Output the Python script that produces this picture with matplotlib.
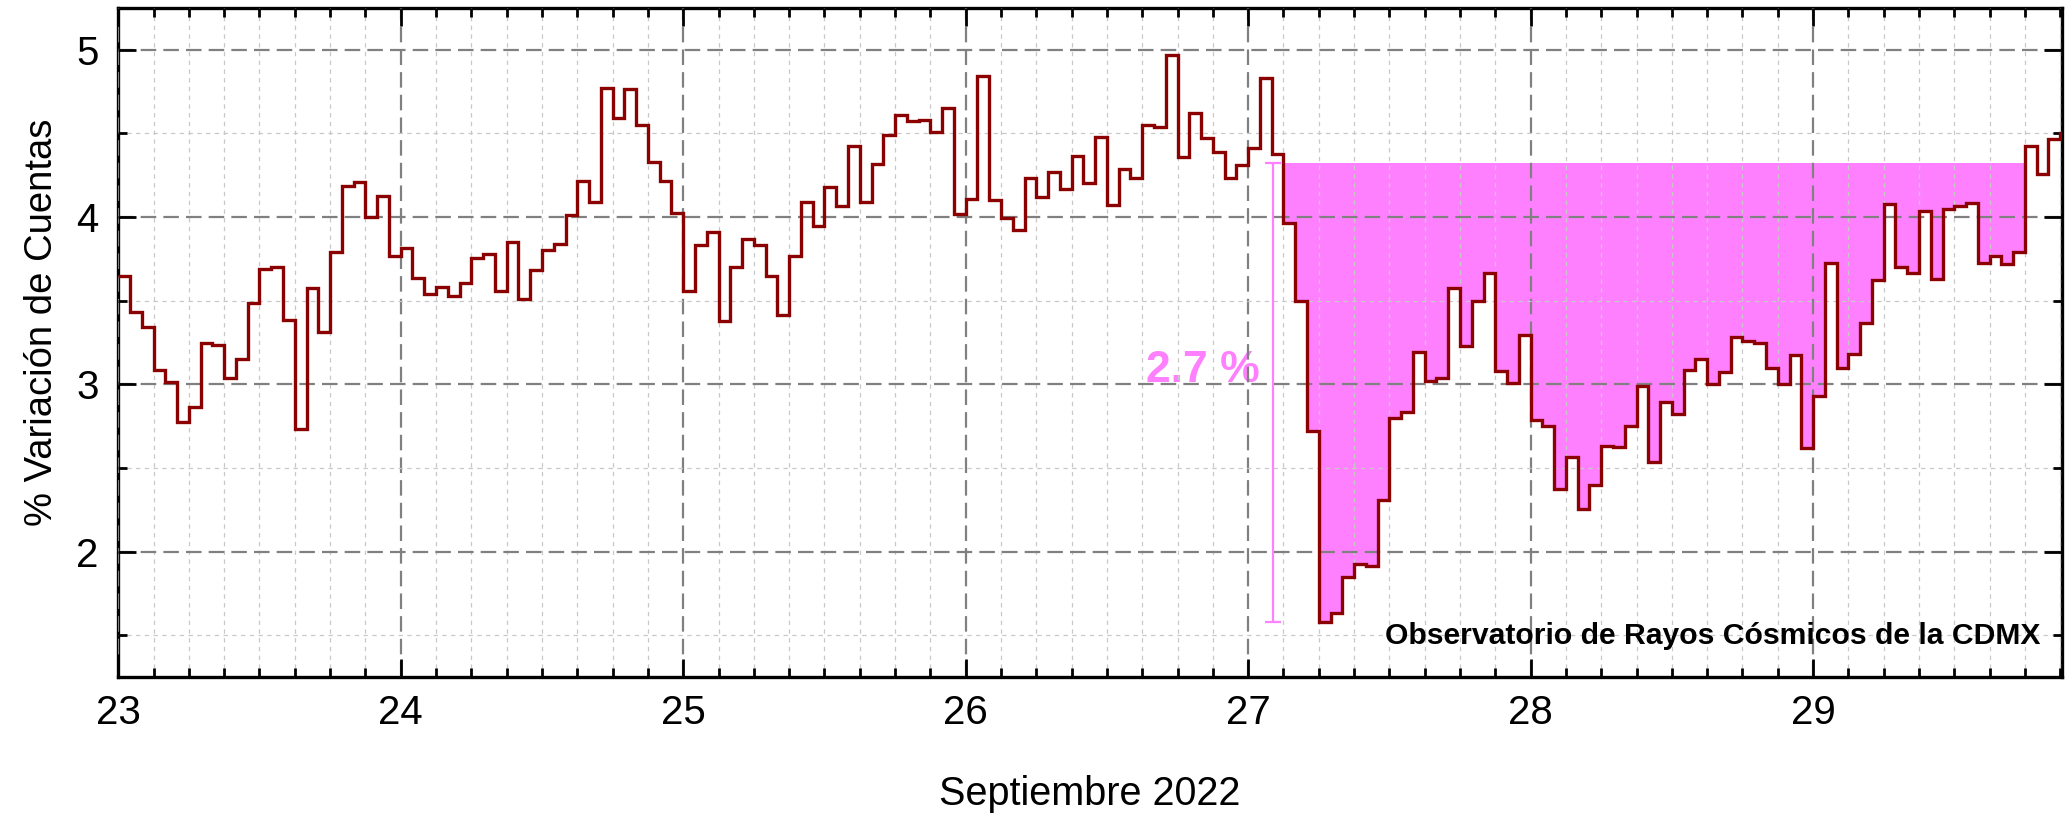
import numpy as np
import matplotlib.pyplot as plt
from matplotlib.ticker import MultipleLocator

# hourly count variation (%), one list per day of September 2022
sep23 = [3.645, 3.435, 3.341, 3.088, 3.016, 2.776, 2.867, 3.245, 3.237, 3.040, 3.149, 3.488,
         3.688, 3.701, 3.387, 2.731, 3.576, 3.315, 3.789, 4.187, 4.208, 4.000, 4.128, 3.768]
sep24 = [3.813, 3.637, 3.539, 3.584, 3.528, 3.608, 3.755, 3.781, 3.560, 3.853, 3.509, 3.683,
         3.805, 3.840, 4.013, 4.216, 4.093, 4.773, 4.592, 4.763, 4.549, 4.328, 4.216, 4.027]
sep25 = [3.555, 3.832, 3.912, 3.381, 3.701, 3.869, 3.832, 3.648, 3.416, 3.765, 4.093, 3.947,
         4.181, 4.067, 4.424, 4.088, 4.320, 4.491, 4.611, 4.573, 4.579, 4.509, 4.653, 4.016]
sep26 = [4.107, 4.843, 4.101, 3.995, 3.923, 4.232, 4.123, 4.267, 4.165, 4.365, 4.205, 4.477,
         4.075, 4.288, 4.235, 4.552, 4.536, 4.971, 4.360, 4.621, 4.475, 4.389, 4.232, 4.312]
sep27 = [4.413, 4.829, 4.379, 3.963, 3.496, 2.720, 1.576, 1.635, 1.848, 1.928, 1.915, 2.309,
         2.800, 2.832, 3.192, 3.019, 3.040, 3.573, 3.232, 3.499, 3.667, 3.080, 3.008, 3.293]
sep28 = [2.787, 2.749, 2.376, 2.568, 2.253, 2.395, 2.632, 2.627, 2.752, 2.989, 2.536, 2.893,
         2.821, 3.083, 3.152, 3.003, 3.072, 3.280, 3.259, 3.248, 3.099, 3.003, 3.176, 2.621]
sep29 = [2.933, 3.723, 3.099, 3.181, 3.368, 3.621, 4.080, 3.701, 3.665, 4.035, 3.629, 4.048,
         4.067, 4.085, 3.728, 3.768, 3.717, 3.792, 4.427, 4.259, 4.467, 4.500]

first_day = 23
pre_event_level = 4.325   # level before the Forbush decrease
bar_x = 27.088            # where the amplitude bar is drawn

day_labels = ['23', '24', '25', '26', '27', '28', '29']

values = np.array(sep23 + sep24 + sep25 + sep26 + sep27 + sep28 + sep29)
edges = first_day + np.arange(len(values) + 1) / 24.0

# contiguous run below the pre-event level around the minimum
i_min = int(np.argmin(values))
i0 = i_min
while i0 > 0 and values[i0 - 1] < pre_event_level:
    i0 -= 1
i1 = i_min
while i1 < len(values) - 1 and values[i1 + 1] < pre_event_level:
    i1 += 1
v_min = values[i_min]
drop = pre_event_level - v_min

plt.rcParams['font.family'] = ['Liberation Sans', 'DejaVu Sans']

fig = plt.figure(figsize=(20.71, 8.19), dpi=100)
ax = fig.add_axes([0.0571, 0.1734, 0.9384, 0.8168])

pink = '#ff80ff'
ax.stairs(values[i0:i1 + 1], edges[i0:i1 + 2], baseline=pre_event_level,
          fill=True, color=pink, lw=0, zorder=1)
ax.stairs(values, edges, baseline=None, color='#8b0000', lw=2.4, zorder=3)

# amplitude of the decrease
ax.errorbar([bar_x], [(pre_event_level + v_min) / 2], yerr=[drop / 2],
            color=pink, elinewidth=1.6, capsize=6, capthick=1.6, zorder=2)
ax.text(27.04, 3.08, f'{drop:.1f} %', ha='right', va='center', color=pink,
        fontsize=32, fontweight='bold', zorder=1.5)

ax.text(0.9893, 0.062, 'Observatorio de Rayos Cósmicos de la CDMX',
        transform=ax.transAxes, ha='right', va='center',
        fontsize=21.7, fontweight='bold', zorder=4)

ax.set_xlim(first_day, 29.88)
ax.set_ylim(1.25, 5.25)
ax.set_xticks(np.arange(first_day, first_day + len(day_labels)))
ax.set_xticklabels(day_labels)
ax.xaxis.set_minor_locator(MultipleLocator(1 / 8))
ax.yaxis.set_major_locator(MultipleLocator(1))
ax.yaxis.set_minor_locator(MultipleLocator(0.5))

ax.set_axisbelow(False)
ax.grid(which='major', color='#808080', lw=1.6, linestyle=(0, (7, 3.2)))
ax.grid(which='minor', color='#c8c8c8', lw=0.9, linestyle=(0, (3.5, 3.5)))

ax.tick_params(which='both', direction='in', top=True, right=True, width=2)
ax.tick_params(which='major', length=13)
ax.tick_params(which='minor', length=6.5)
ax.tick_params(axis='x', pad=12, labelsize=29)
ax.tick_params(axis='y', pad=14, labelsize=29)
for s in ax.spines.values():
    s.set_linewidth(2.4)

ax.set_xlabel('Septiembre 2022', fontsize=28.5)
ax.set_ylabel('% Variación de Cuentas', fontsize=27.5)
ax.xaxis.set_label_coords(0.5, -0.146)
ax.yaxis.set_label_coords(-0.030, 0.53)

fig.savefig('out.png', dpi=100)
